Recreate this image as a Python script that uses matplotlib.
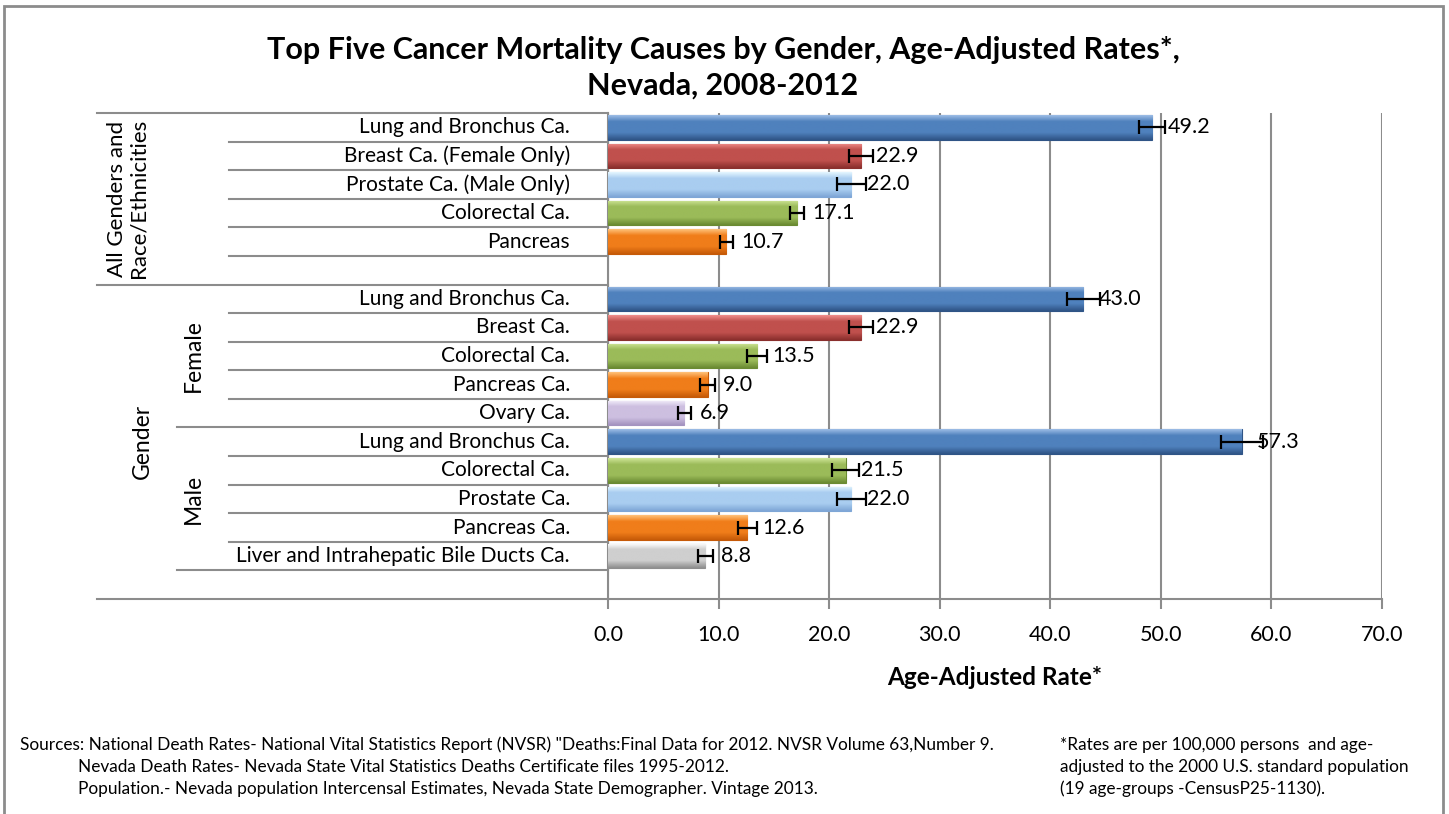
import numpy as np
import matplotlib
matplotlib.use("Agg")
import matplotlib.pyplot as plt
import matplotlib.transforms as mtransforms
from matplotlib.colors import LinearSegmentedColormap
from matplotlib.patches import Rectangle

plt.rcParams['font.family'] = ['Lato', 'DejaVu Sans']

# Data
cats_all = ["Lung and Bronchus Ca.", "Breast Ca. (Female Only)", "Prostate Ca. (Male Only)",
            "Colorectal Ca.", "Pancreas"]
vals_all = [49.2, 22.9, 22.0, 17.1, 10.7]
err_all = [1.2, 1.1, 1.3, 0.65, 0.6]
type_all = ["lung", "breast", "prostate", "colorectal", "pancreas"]

cats_female = ["Lung and Bronchus Ca.", "Breast Ca.", "Colorectal Ca.", "Pancreas Ca.", "Ovary Ca."]
vals_female = [43.0, 22.9, 13.5, 9.0, 6.9]
err_female = [1.5, 1.1, 0.9, 0.7, 0.6]
type_female = ["lung", "breast", "colorectal", "pancreas", "ovary"]

cats_male = ["Lung and Bronchus Ca.", "Colorectal Ca.", "Prostate Ca.", "Pancreas Ca.",
             "Liver and Intrahepatic Bile Ducts Ca."]
vals_male = [57.3, 21.5, 22.0, 12.6, 8.8]
err_male = [1.9, 1.2, 1.3, 0.85, 0.7]
type_male = ["lung", "colorectal", "prostate", "pancreas", "liver"]

x_ticks = [0, 10, 20, 30, 40, 50, 60, 70]

# colour per cancer type: (top highlight, middle, bottom)
colors = {
    "lung": ("#9dbde6", "#4f81bd", "#2f5486"),
    "breast": ("#f08f8c", "#c0504d", "#8a2f2d"),
    "prostate": ("#e4f6ff", "#a9cdf0", "#7ea6d6"),
    "colorectal": ("#cfe597", "#9bbb59", "#6a8a32"),
    "pancreas": ("#ffc27a", "#f07d1a", "#c65a08"),
    "ovary": ("#f3eefa", "#cdbfe0", "#a493c0"),
    "liver": ("#ffffff", "#cfcfcf", "#8e8e8e"),
}

# row positions: all (0-4), blank 5, female (6-10), male (11-15), blank 16
pos_all = list(range(0, 5))
pos_female = list(range(6, 11))
pos_male = list(range(11, 16))

fig = plt.figure(figsize=(14.49, 8.14), dpi=100)
ax = fig.add_axes([608 / 1449, 1 - 599 / 814, 774 / 1449, 486 / 814])

bar_h = 0.86
grid_c = "#8c8c8c"

for pos, vals, errs, types in [(pos_all, vals_all, err_all, type_all),
                               (pos_female, vals_female, err_female, type_female),
                               (pos_male, vals_male, err_male, type_male)]:
    for p, v, e, t in zip(pos, vals, errs, types):
        top, mid, bot = colors[t]
        bar = ax.barh(p, v, height=bar_h, color=mid, edgecolor=bot, linewidth=0.8, zorder=3)[0]
        cmap = LinearSegmentedColormap.from_list(
            "g", [(0, top), (0.25, mid), (0.7, mid), (1, bot)])
        grad = np.linspace(0, 1, 64).reshape(-1, 1)
        im = ax.imshow(grad, cmap=cmap, aspect="auto", zorder=3.5,
                       extent=[0, v, p + bar_h / 2, p - bar_h / 2], interpolation="bilinear")
        im.set_clip_path(bar)
        ax.errorbar(v, p, xerr=e, fmt="none", ecolor="black", elinewidth=1.6,
                    capsize=5, capthick=1.6, zorder=5)
        ax.annotate(f"{v:.1f}", (v, p), xytext=(11, 0), textcoords="offset points",
                    ha="left", va="center", fontsize=15.5, color="black", zorder=6)

ax.set_xlim(0, 70)
ax.set_ylim(16.5, -0.5)
ax.set_aspect("auto")
ax.set_xticks(x_ticks)
ax.set_xticklabels([f"{t:.1f}" for t in x_ticks], fontsize=15.5)
ax.tick_params(axis="x", length=7, width=1.5, color=grid_c, pad=12)
ax.set_yticks([])
ax.grid(axis="x", color=grid_c, linewidth=1.5, zorder=0)
ax.set_axisbelow(True)
for s in ["top", "right"]:
    ax.spines[s].set_visible(False)
for s in ["left", "bottom"]:
    ax.spines[s].set_color(grid_c)
    ax.spines[s].set_linewidth(1.5)
ax.set_xlabel("Age-Adjusted Rate*", fontsize=17.5, fontweight="bold", labelpad=15)

# category labels and hierarchical separators
trans = mtransforms.blended_transform_factory(ax.transAxes, ax.transData)
lab_x = (570 - 608) / 774
for pos, cats in [(pos_all, cats_all), (pos_female, cats_female), (pos_male, cats_male)]:
    for p, c in zip(pos, cats):
        ax.text(lab_x, p, c, transform=trans, ha="right", va="center", fontsize=15)

x_outer = (97 - 608) / 774
x_mid = (177 - 608) / 774
x_inner = (229 - 608) / 774
boundaries = {-0.5: x_outer, 5.5: x_outer, 16.5: x_outer, 10.5: x_mid, 15.5: x_mid}
for b in np.arange(-0.5, 16.5, 1.0):
    x0 = boundaries.get(b, x_inner)
    ax.plot([x0, 0], [b, b], transform=trans, color=grid_c, lw=1.5, clip_on=False)
ax.plot([x_outer, 0], [16.5, 16.5], transform=trans, color=grid_c, lw=1.5, clip_on=False)

ax.text((128 - 608) / 774, 2.5, "All Genders and\nRace/Ethnicities", transform=trans,
        rotation=90, ha="center", va="center", fontsize=16, linespacing=1.1)
ax.text((142 - 608) / 774, 11, "Gender", transform=trans, rotation=90,
        ha="center", va="center", fontsize=16.5)
ax.text((193 - 608) / 774, 8, "Female", transform=trans, rotation=90,
        ha="center", va="center", fontsize=16.5)
ax.text((193 - 608) / 774, 13, "Male", transform=trans, rotation=90,
        ha="center", va="center", fontsize=16.5)

# title
fig.text(723 / 1449, 1 - 68 / 814,
         "Top Five Cancer Mortality Causes by Gender, Age-Adjusted Rates*,\nNevada, 2008-2012",
         ha="center", va="center", fontsize=22, fontweight="bold", linespacing=1.35)

# footnotes
fs = 12.4
left_notes = [
    (20, 'Sources: National Death Rates- National Vital Statistics Report (NVSR) "Deaths:Final Data for 2012. NVSR Volume 63,Number 9.'),
    (78, "Nevada Death Rates- Nevada State Vital Statistics Deaths Certificate files 1995-2012."),
    (78, "Population.- Nevada population Intercensal Estimates, Nevada State Demographer. Vintage 2013."),
]
right_notes = [
    "*Rates are per 100,000 persons  and age-",
    "adjusted to the 2000 U.S. standard population",
    "(19 age-groups -CensusP25-1130).",
]
for i, (x0, line) in enumerate(left_notes):
    fig.text(x0 / 1449, 1 - (745 + 22 * i) / 814, line, ha="left", va="center", fontsize=fs)
for i, line in enumerate(right_notes):
    fig.text(1060 / 1449, 1 - (745 + 22 * i) / 814, line, ha="left", va="center", fontsize=fs)

# chart border
fig.patches.append(Rectangle((4 / 1449, -0.05), 1439 / 1449, 1.05 - 6 / 814,
                             transform=fig.transFigure, fill=False,
                             edgecolor="#8c8c8c", linewidth=2))

fig.savefig("out.png", dpi=100)
